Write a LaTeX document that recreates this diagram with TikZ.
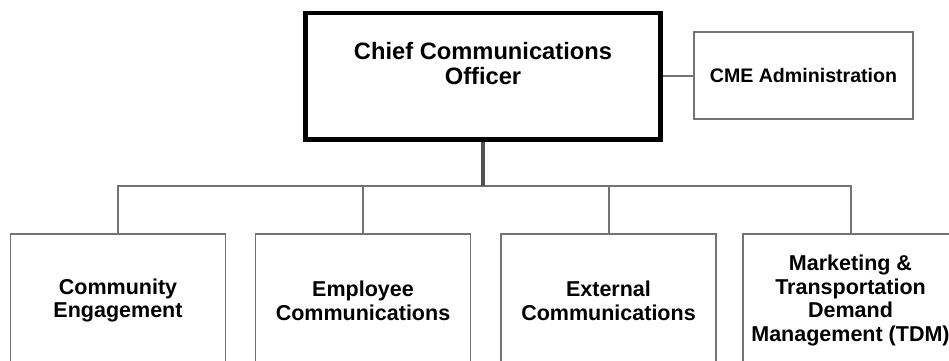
\documentclass[tikz,border=0pt]{standalone}
\usepackage{fontspec}
\setmainfont{Liberation Sans}
\usetikzlibrary{positioning}

\begin{document}
\begin{tikzpicture}[x=1pt,y=-1pt,
  chief/.style={draw=black,line width=4.5pt,align=center,inner sep=0pt,
    minimum width=355pt,minimum height=126.5pt,
    font=\bfseries\fontsize{23.7}{25}\selectfont},
  admin/.style={draw=black!55,line width=1.8pt,align=center,inner sep=0pt,
    minimum width=219pt,minimum height=87pt,
    font=\bfseries\fontsize{19.6}{22}\selectfont},
  unit/.style={draw=black!55,line width=1.8pt,align=center,inner sep=0pt,
    minimum width=215pt,minimum height=133pt,
    font=\bfseries\fontsize{21.5}{23.8}\selectfont},
  link/.style={draw=black!55,line width=2pt}]
\useasboundingbox (0,0) rectangle (949,360);
\clip (0,0) rectangle (949,360);

% Top level
\node[chief] (cco) at (483,76.25) {Chief Communications\\Officer\\\mbox{}};
\node[admin] (cme) at (803.5,75.5) {CME Administration};
\draw[link] (cco.east |- cme.west) -- (cme.west);

% Units
\node[unit] (ce) at (118,300.5) {Community\\Engagement};
\node[unit] (ec) at (363,300.5) {Employee\\Communications};
\node[unit] (xc) at (608.5,300.5) {External\\Communications};
\node[unit] (tdm) at (850.5,300.5) {Marketing \&\\Transportation\\Demand\\Management (TDM)};

% Tree lines
\coordinate (bus) at (483,186);
\draw[link] (ce.north) |- (bus);
\draw[link] (ec.north) |- (bus);
\draw[link] (xc.north) |- (bus);
\draw[link] (tdm.north) |- (bus);
\draw[draw=black!68,line width=3.5pt] (cco.south) -- (bus);
\end{tikzpicture}
\end{document}
